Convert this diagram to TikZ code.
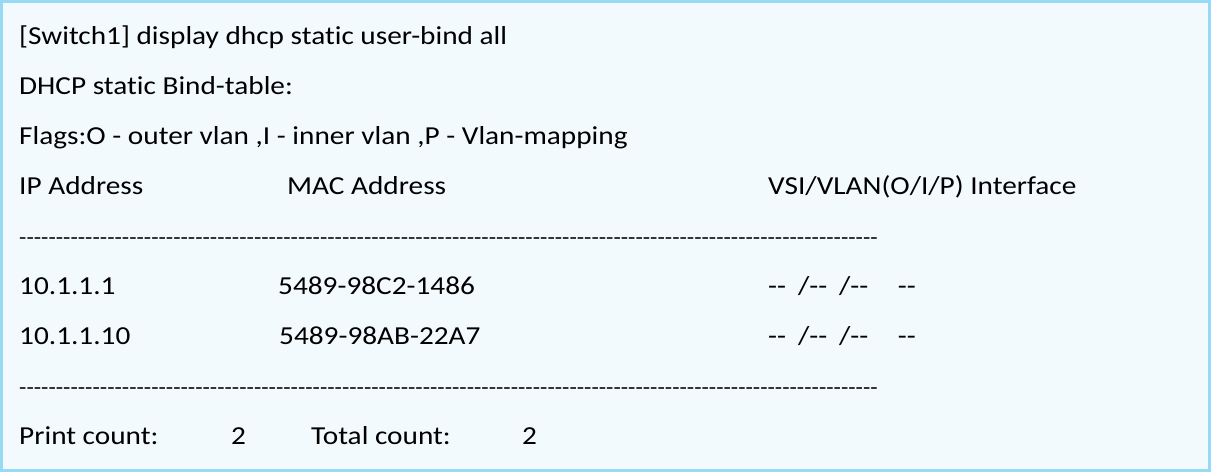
\documentclass[tikz,border=0pt]{standalone}
\usepackage{fontspec}
\newfontfamily\termfont{Carlito}[Ligatures=NoCommon, FakeStretch=1.13]
\usepackage{tikz}
\definecolor{panelbg}{RGB}{243,250,254}
\definecolor{panelrule}{RGB}{150,218,245}
\newcommand{\dashrow}{\foreach\i in {1,...,117}{-}}

\begin{document}
\begin{tikzpicture}[
  x=1bp, y=-1bp,
  line/.style={anchor=base west, inner sep=0pt, font=\termfont\fontsize{26}{30}\selectfont},
  rulerow/.style={line, font=\termfont\fontsize{21.3}{30}\selectfont}
]
  % panel
  \fill[panelbg] (0,0) rectangle (1211,472);
  \draw[panelrule, line width=3bp] (1.5,1.5) rectangle (1209.5,470.5);
  \useasboundingbox (0,0) rectangle (1211,472);

  % header
  \node[line] (cmd) at (19,45) {[Switch1] display dhcp static user-bind all};
  \node[line] (title) at (19,95) {DHCP static Bind-table:};
  \node[line] (flags) at (19,145) {Flags:O - outer vlan ,I - inner vlan ,P - Vlan-mapping};

  % column heads
  \node[line] (iphead) at (19,195) {IP Address};
  \node[line] (machead) at (287,195) {MAC Address};
  \node[line] (vsihead) at (768,195) {VSI/VLAN(O/I/P) Interface};
  \node[rulerow] (rule1) at (19,245) {\dashrow};

  % entries
  \node[line] (ip1) at (19,295) {10.1.1.1};
  \node[line] (mac1) at (278,295) {5489-98C2-1486};
  \node[line] (vsi1) at (768,295) {--\hspace{12bp}/--\hspace{11.7bp}/--\hspace{29.7bp}--};
  \node[line] (ip2) at (19,345) {10.1.1.10};
  \node[line] (mac2) at (279,345) {5489-98AB-22A7};
  \node[line] (vsi2) at (768,345) {--\hspace{12bp}/--\hspace{11.7bp}/--\hspace{29.7bp}--};
  \node[rulerow] (rule2) at (19,395) {\dashrow};

  % totals
  \node[line] (printc) at (19,445) {Print count:};
  \node[line] (printn) at (231,445) {2};
  \node[line] (totalc) at (311,445) {Total count:};
  \node[line] (totaln) at (522,445) {2};
\end{tikzpicture}
\end{document}
